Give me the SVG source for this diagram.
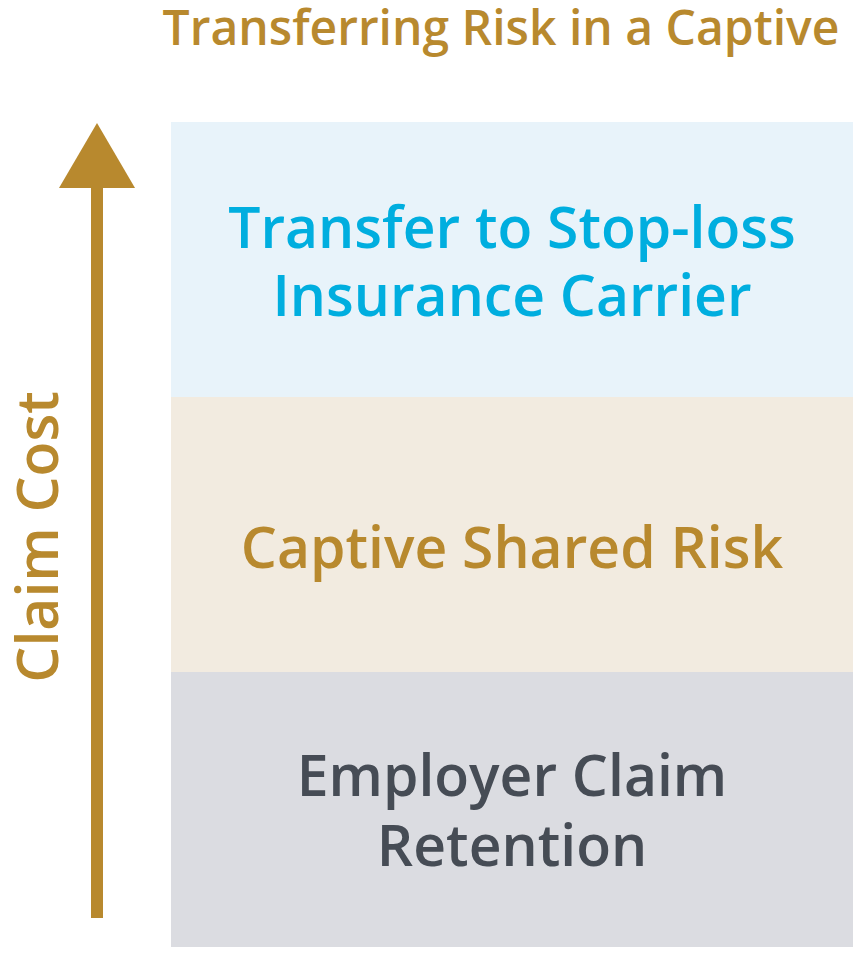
<svg xmlns="http://www.w3.org/2000/svg" width="866" height="957" viewBox="0 0 866 957">
<style>
text{font-family:"Open Sans","Noto Sans","Liberation Sans",sans-serif;font-weight:600;text-anchor:middle}
.big{font-size:57px}
.gold{fill:#B8892E}
</style>
<rect width="866" height="957" fill="#FFFFFF"/>
<text class="gold" x="501" y="45" style="font-size:48px">Transferring Risk in a Captive</text>
<g id="stoploss">
<rect x="171" y="122" width="682" height="275" fill="#E8F3FA"/>
<text class="big" x="512" y="248" fill="#00AEDF">Transfer to Stop-loss</text>
<text class="big" x="512" y="316" fill="#00AEDF">Insurance Carrier</text>
</g>
<g id="captive">
<rect x="171" y="397" width="682" height="275" fill="#F2EBE0"/>
<text class="big gold" x="512" y="568">Captive Shared Risk</text>
</g>
<g id="employer">
<rect x="171" y="672" width="682" height="275" fill="#DBDCE1"/>
<text class="big" x="512" y="796" fill="#464C55">Employer Claim</text>
<text class="big" x="512" y="866" fill="#464C55">Retention</text>
</g>
<g id="connectors">
<rect x="91" y="186" width="12" height="732" fill="#B8892E"/>
<polygon points="97,123 135,188 59,188" fill="#B8892E"/>
</g>
<text class="big gold" transform="translate(58,537) rotate(-90)">Claim Cost</text>
</svg>
